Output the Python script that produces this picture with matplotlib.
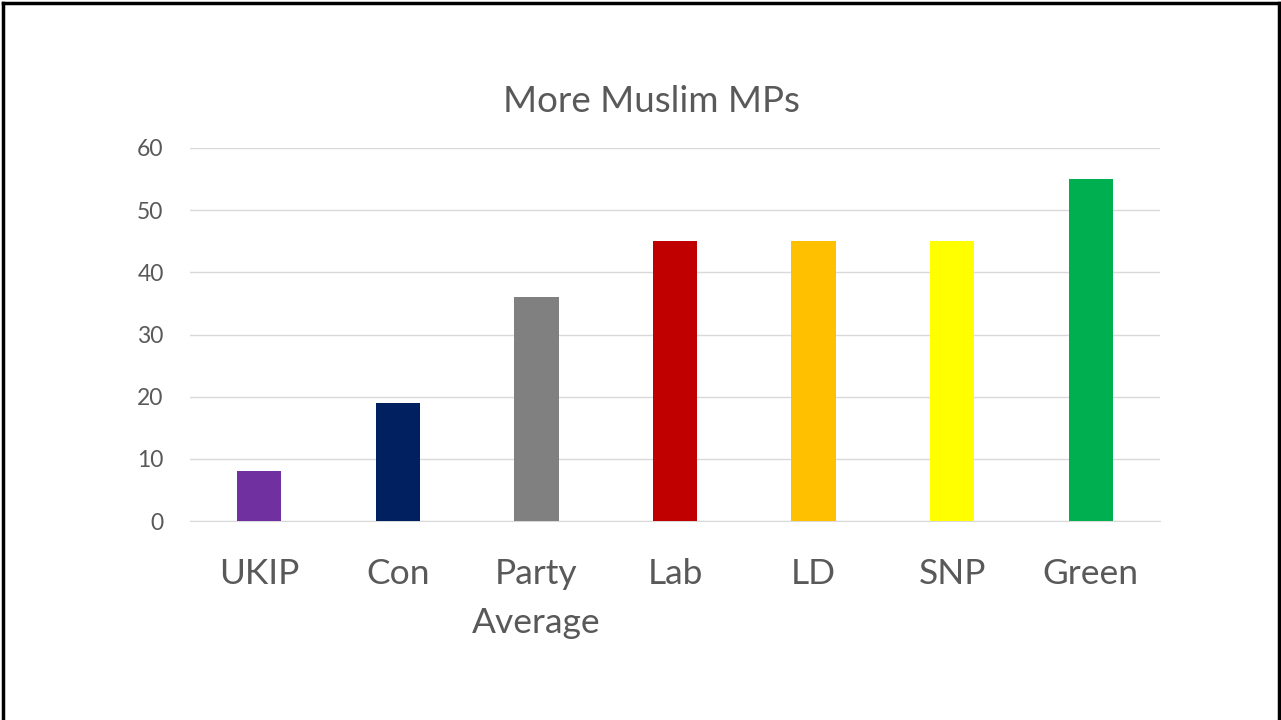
import matplotlib.pyplot as plt
from matplotlib.lines import Line2D
import numpy as np

parties = ["UKIP", "Con", "Party\nAverage", "Lab", "LD", "SNP", "Green"]
values = [8, 19, 36, 45, 45, 45, 55]
colors = ["#7030A0", "#002060", "#808080", "#C00000", "#FFC000", "#FFFF00", "#00B050"]
yticks = [0, 10, 20, 30, 40, 50, 60]

plt.rcParams['font.family'] = ['Lato', 'DejaVu Sans']
text_col = "#595959"

fig = plt.figure(figsize=(12.81, 7.2), dpi=100)
ax = fig.add_axes([190/1281, 1-521/720, 970/1281, 373/720])

x = np.arange(len(parties))
ax.bar(x, values, width=0.32, color=colors, zorder=3)

ax.set_xlim(-0.5, len(parties)-0.5)
ax.set_ylim(0, 60)
ax.set_yticks(yticks)
ax.set_xticks(x)
ax.set_xticklabels(parties, fontsize=25.5, color=text_col, linespacing=1.65, va="top")
ax.tick_params(axis="y", labelsize=16.5, colors=text_col, length=0, pad=19)
ax.tick_params(axis="x", length=0, pad=27)
ax.grid(axis="y", color="#D9D9D9", linewidth=1, zorder=0)
for s in ["top", "right", "left"]:
    ax.spines[s].set_visible(False)
ax.spines["bottom"].set_color("#D9D9D9")

fig.text(651/1281, 1-102/720, "More Muslim MPs", ha="center", va="center",
         fontsize=26.5, color=text_col)

# frame around picture
fig.add_artist(Line2D([3/1281, 3/1281], [0, 1-3/720], transform=fig.transFigure, color="black", lw=2.5))
fig.add_artist(Line2D([1279/1281, 1279/1281], [0, 1-3/720], transform=fig.transFigure, color="black", lw=2.5))
fig.add_artist(Line2D([3/1281, 1279/1281], [1-3/720, 1-3/720], transform=fig.transFigure, color="black", lw=2.5))

fig.savefig("out.png", dpi=100)
